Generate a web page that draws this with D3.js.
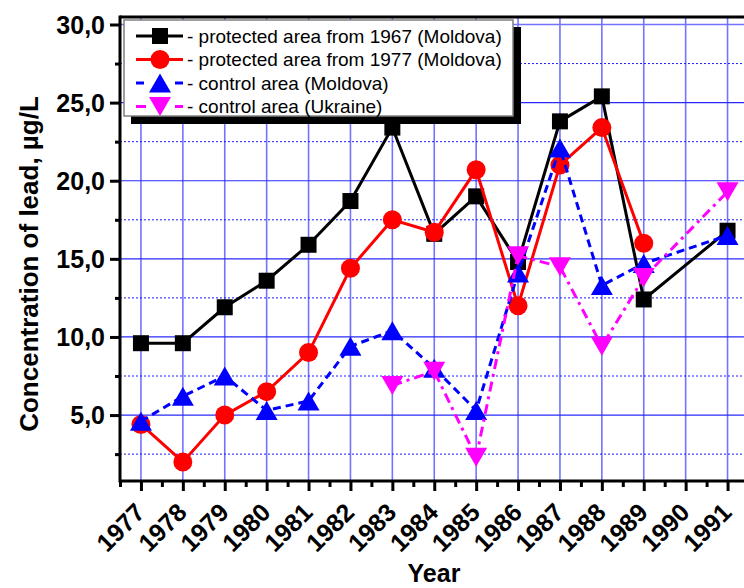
<!DOCTYPE html>
<html>
<head>
<meta charset="utf-8">
<script src="https://cdn.jsdelivr.net/npm/d3@7"></script>
<style>
    body { margin: 0; background: #fff; }
    svg { display: block; font-family: "Liberation Sans", Arial, sans-serif; }
</style>
</head>
<body>
<div id="chart"></div>
<script>

let years = [1977, 1978, 1979, 1980, 1981, 1982, 1983, 1984, 1985, 1986, 1987, 1988, 1989, 1990, 1991];
let protected1967 = [9.6, 9.6, 11.9, 13.6, 15.9, 18.7, 23.4, 16.6, 19.0, 14.8, 23.8, 25.4, 12.4, null, 16.8];
let protected1977 = [4.4, 2.0, 5.0, 6.5, 9.0, 14.4, 17.5, 16.7, 20.7, 12.0, 21.0, 23.4, 16.0, null, null];
let controlMoldova = [4.6, 6.2, 7.5, 5.3, 5.9, 9.4, 10.4, 8.0, 5.3, 14.1, 22.1, 13.3, 14.7, null, 16.5];
let controlUkraine = [null, null, null, null, null, null, 6.9, 7.8, 2.3, 15.2, 14.5, 9.4, 13.8, null, 19.3];

let yTicks = [5, 10, 15, 20, 25, 30];
let yMinorTicks = [2.5, 7.5, 12.5, 17.5, 22.5, 27.5];
let seriesNames = [
    "- protected area from 1967 (Moldova)",
    "- protected area from 1977 (Moldova)",
    "- control area (Moldova)",
    "- control area (Ukraine)"
];

let width = 744, height = 588;
let margin = { top: 17, left: 120, bottom: 481, right: 748.5 };

let svg = d3.select("#chart").append("svg")
    .attr("width", width)
    .attr("height", height);

let x = d3.scaleLinear()
    .domain([1976.5, 1991.5])
    .range([margin.left, margin.right]);

let y = d3.scaleLinear()
    .domain([0.78, 30.48])
    .range([margin.bottom, margin.top]);

// grid
let grid = svg.append("g");
grid.selectAll(".vgrid")
    .data(years)
    .enter().append("line")
    .attr("x1", d => x(d)).attr("x2", d => x(d))
    .attr("y1", margin.top).attr("y2", margin.bottom)
    .attr("stroke", "#7373ff")
    .attr("stroke-width", 1.6);

grid.selectAll(".hgrid")
    .data(yTicks)
    .enter().append("line")
    .attr("x1", margin.left).attr("x2", width)
    .attr("y1", d => y(d)).attr("y2", d => y(d))
    .attr("stroke", d => d === 30 ? "#7373ff" : "#2a2aff")
    .attr("stroke-width", d => d === 30 ? 1.6 : 1.2);

grid.selectAll(".hminor")
    .data(yMinorTicks)
    .enter().append("line")
    .attr("x1", margin.left).attr("x2", width)
    .attr("y1", d => y(d)).attr("y2", d => y(d))
    .attr("stroke", "#1a1aff")
    .attr("stroke-width", 1)
    .attr("stroke-dasharray", "2,2");

// axes
let xAxis = d3.axisBottom(x)
    .tickValues(years)
    .tickSize(10)
    .tickFormat(d3.format("d"));

let xMinor = d3.axisBottom(x)
    .tickValues(years.map(d => d - 0.5).concat([1991.5]))
    .tickSize(6)
    .tickFormat("");

let yAxis = d3.axisLeft(y)
    .tickValues(yTicks)
    .tickSize(10)
    .tickFormat(d => d3.format(".1f")(d).replace(".", ","));

let yMinor = d3.axisLeft(y)
    .tickValues(yMinorTicks)
    .tickSize(5)
    .tickFormat("");

function styleAxis(g) {
    g.select(".domain").remove();
    g.selectAll(".tick line").attr("stroke", "#000").attr("stroke-width", 3);
    g.selectAll("text")
        .attr("fill", "#000")
        .attr("font-weight", "bold")
        .attr("font-size", 25);
}

let gx = svg.append("g")
    .attr("transform", "translate(0," + margin.bottom + ")")
    .call(xAxis).call(styleAxis);

gx.selectAll(".tick text")
    .attr("text-anchor", "end")
    .attr("dy", null)
    .attr("y", 0)
    .attr("transform", "translate(5,33) rotate(-45)");

svg.append("g")
    .attr("transform", "translate(0," + margin.bottom + ")")
    .call(xMinor).call(styleAxis);

let gy = svg.append("g")
    .attr("transform", "translate(" + margin.left + ",0)")
    .call(yAxis).call(styleAxis);
gy.selectAll(".tick text").attr("x", -15).attr("dy", "0.35em");

svg.append("g")
    .attr("transform", "translate(" + margin.left + ",0)")
    .call(yMinor).call(styleAxis);

// frame lines
svg.append("line")
    .attr("x1", margin.left).attr("x2", width)
    .attr("y1", margin.bottom).attr("y2", margin.bottom)
    .attr("stroke", "#000").attr("stroke-width", 3);
svg.append("line")
    .attr("x1", margin.left).attr("x2", width)
    .attr("y1", margin.top).attr("y2", margin.top)
    .attr("stroke", "#000").attr("stroke-width", 3);
svg.append("line")
    .attr("x1", margin.left).attr("x2", margin.left)
    .attr("y1", margin.top - 1.5).attr("y2", margin.bottom + 1.5)
    .attr("stroke", "#000").attr("stroke-width", 3);

// axis titles
svg.append("text")
    .attr("x", 434).attr("y", 582)
    .attr("text-anchor", "middle")
    .attr("font-weight", "bold")
    .attr("font-size", 25)
    .text("Year");

svg.append("text")
    .attr("transform", "translate(38,264) rotate(-90)")
    .attr("text-anchor", "middle")
    .attr("font-weight", "bold")
    .attr("font-size", 26)
    .text("Concentration of lead, \u00b5g/L");

// markers
function markerPath(shape) {
    if (shape === "square") return "M-8,-8H8V8H-8Z";
    if (shape === "circle") return "M-9.5,0A9.5,9.5 0 1,0 9.5,0A9.5,9.5 0 1,0 -9.5,0Z";
    if (shape === "up") return "M0,-9.5L11,9.5L-11,9.5Z";
    return "M0,9.5L11,-9.5L-11,-9.5Z";
}

let series = [
    { name: seriesNames[0], values: protected1967, color: "#000000", dash: null, shape: "square" },
    { name: seriesNames[1], values: protected1977, color: "#ff0000", dash: null, shape: "circle" },
    { name: seriesNames[2], values: controlMoldova, color: "#0000ff", dash: "8,5", shape: "up" },
    { name: seriesNames[3], values: controlUkraine, color: "#ff00ff", dash: "10,5,3,5", shape: "down" }
];

let line = d3.line()
    .x(d => x(d.year))
    .y(d => y(d.value));

series.forEach(function(s) {
    let pts = years.map((yr, i) => ({ year: yr, value: s.values[i] }))
        .filter(d => d.value !== null);

    svg.append("path")
        .datum(pts)
        .attr("fill", "none")
        .attr("stroke", s.color)
        .attr("stroke-width", 3)
        .attr("stroke-dasharray", s.dash)
        .attr("d", line);

    svg.selectAll(null)
        .data(pts)
        .enter().append("path")
        .attr("d", markerPath(s.shape))
        .attr("transform", d => "translate(" + x(d.year) + "," + y(d.value) + ")")
        .attr("fill", s.color);
});

// legend
let legend = svg.append("g");
legend.append("rect")
    .attr("x", 131).attr("y", 27)
    .attr("width", 390).attr("height", 97)
    .attr("fill", "#000");
legend.append("rect")
    .attr("x", 124).attr("y", 20)
    .attr("width", 389).attr("height", 96)
    .attr("fill", "#fff")
    .attr("stroke", "#808080")
    .attr("stroke-width", 1.5);

series.forEach(function(s, i) {
    let cy = 36 + i * 23.5;
    legend.append("line")
        .attr("x1", 136).attr("x2", 183)
        .attr("y1", cy).attr("y2", cy)
        .attr("stroke", s.color)
        .attr("stroke-width", 3)
        .attr("stroke-dasharray", s.dash ? (i === 2 ? "8,31" : "10,29") : null);
    legend.append("path")
        .attr("d", markerPath(s.shape))
        .attr("transform", "translate(160," + cy + ")")
        .attr("fill", s.color);
    legend.append("text")
        .attr("x", 187).attr("y", cy + 6.8)
        .attr("font-size", 19)
        .text(s.name);
});

</script>
</body>
</html>
